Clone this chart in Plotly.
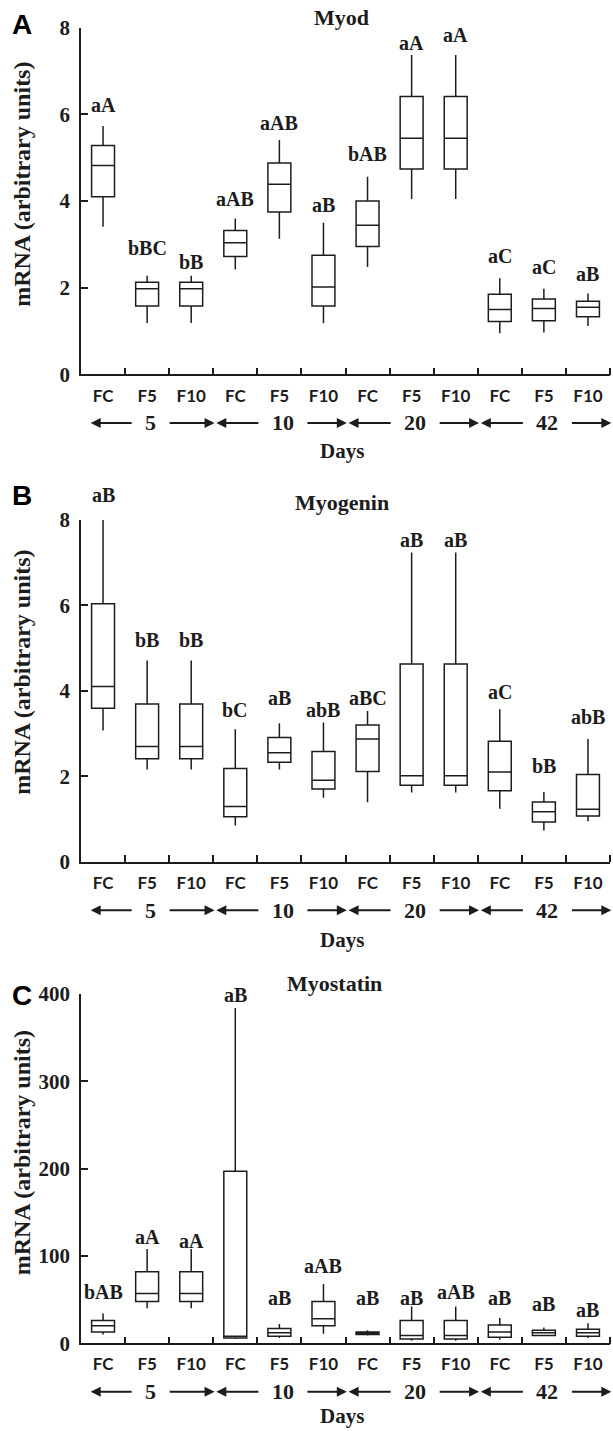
import plotly.graph_objects as go

# ---------------- data ----------------
groups = ["FC", "F5", "F10"] * 4
days = ["5", "10", "20", "42"]

# Panel A - Myod
myod_low = [3.41, 1.19, 1.19, 2.42, 3.13, 1.18, 2.48, 4.05, 4.05, 0.95, 0.97, 1.12]
myod_q1 = [4.10, 1.58, 1.58, 2.72, 3.75, 1.58, 2.95, 4.74, 4.74, 1.22, 1.24, 1.33]
myod_med = [4.82, 1.98, 1.98, 3.04, 4.39, 2.02, 3.44, 5.45, 5.45, 1.50, 1.52, 1.55]
myod_q3 = [5.28, 2.13, 2.13, 3.32, 4.88, 2.75, 4.00, 6.41, 6.41, 1.85, 1.74, 1.69]
myod_high = [5.73, 2.28, 2.28, 3.60, 5.41, 3.50, 4.56, 7.37, 7.37, 2.22, 1.98, 1.87]
myod_sig = ["aA", "bBC", "bB", "aAB", "aAB", "aB", "bAB", "aA", "aA", "aC", "aC", "aB"]
myod_sig_y = [6.22, 2.91, 2.60, 4.05, 5.81, 3.91, 5.08, 7.65, 7.83, 2.73, 2.48, 2.31]

# Panel B - Myogenin
myog_low = [3.07, 2.16, 2.16, 0.85, 2.16, 1.50, 1.39, 1.62, 1.62, 1.24, 0.73, 0.95]
myog_q1 = [3.59, 2.41, 2.41, 1.05, 2.33, 1.70, 2.11, 1.79, 1.79, 1.66, 0.93, 1.07]
myog_med = [4.10, 2.70, 2.70, 1.29, 2.55, 1.91, 2.87, 2.01, 2.01, 2.10, 1.17, 1.23]
myog_q3 = [6.04, 3.69, 3.69, 2.18, 2.91, 2.58, 3.20, 4.63, 4.63, 2.82, 1.40, 2.04]
myog_high = [8.00, 4.71, 4.71, 3.10, 3.24, 3.26, 3.53, 7.24, 7.24, 3.57, 1.63, 2.87]
myog_sig = ["aB", "bB", "bB", "bC", "aB", "abB", "aBC", "aB", "aB", "aC", "bB", "abB"]
myog_sig_y = [8.59, 5.18, 5.18, 3.54, 3.83, 3.55, 3.83, 7.54, 7.54, 3.98, 2.23, 3.38]

# Panel C - Myostatin
myos_low = [10, 40, 40, 5, 6, 11, 9, 3, 3, 4, 8, 6]
myos_q1 = [13, 48, 48, 6, 8, 20, 10, 5, 5, 7, 9, 8]
myos_med = [20, 57, 57, 8, 12, 28, 12, 9, 9, 13, 12, 12]
myos_q3 = [26, 82, 82, 197, 17, 48, 13, 26, 26, 21, 15, 16]
myos_high = [34, 108, 108, 384, 22, 68, 15, 42, 42, 29, 18, 23]
myos_sig = ["bAB", "aA", "aA", "aB", "aB", "aAB", "aB", "aB", "aAB", "aB", "aB", "aB"]
myos_sig_y = [59, 122, 117, 399, 52, 88, 52, 52, 59, 52, 45, 38]

y_ticks_ab = [0, 2, 4, 6, 8]
y_ticks_c = [0, 100, 200, 300, 400]

# ---------------- styling ----------------
INK = "#1c1c1c"
SERIF = "Liberation Serif"
SANS = "Liberation Sans"
LAB_FONT = "Lato"
LW = 1.5

panels = [
    dict(letter="A", title="Myod", low=myod_low, q1=myod_q1, med=myod_med, q3=myod_q3,
         high=myod_high, sig=myod_sig, sig_y=myod_sig_y, ticks=y_ticks_ab, ymax=8,
         dom=[0.73830, 0.98064], hpx=346.8, title_y=1.030, title_x=0.493, letter_y=1.008,
         ytitle_y=0.549, days_px=77),
    dict(letter="B", title="Myogenin", low=myog_low, q1=myog_q1, med=myog_med, q3=myog_q3,
         high=myog_high, sig=myog_sig, sig_y=myog_sig_y, ticks=y_ticks_ab, ymax=8,
         dom=[0.39783, 0.63662], hpx=341.7, title_y=1.050, title_x=0.493, letter_y=1.073,
         ytitle_y=0.555, days_px=78),
    dict(letter="C", title="Myostatin", low=myos_low, q1=myos_q1, med=myos_med, q3=myos_q3,
         high=myos_high, sig=myos_sig, sig_y=myos_sig_y, ticks=y_ticks_c, ymax=400,
         dom=[0.06129, 0.30538], hpx=349.3, title_y=1.031, title_x=0.48, letter_y=0.997,
         ytitle_y=0.546, days_px=73),
]

CAT_PX = 529 / 12.0  # pixels per category

xs = list(range(len(groups)))
fig = go.Figure()
annotations = []
layout_axes = {}

for i, p in enumerate(panels):
    n = "" if i == 0 else str(i + 1)
    xa, ya = "x" + n, "y" + n
    fig.add_trace(go.Box(
        x=xs, q1=p["q1"], median=p["med"], q3=p["q3"],
        lowerfence=p["low"], upperfence=p["high"],
        xaxis=xa, yaxis=ya, width=0.52, whiskerwidth=0,
        fillcolor="white", line=dict(color=INK, width=LW),
        boxpoints=False, showlegend=False, hoverinfo="skip",
    ))
    layout_axes["xaxis" + n] = dict(
        domain=[0, 1], anchor=ya, range=[-0.5, 11.5],
        tickmode="array", tickvals=xs, ticktext=groups, ticks="",
        showline=True, linecolor=INK, linewidth=LW, showgrid=False, zeroline=False,
        tickfont=dict(family=LAB_FONT, size=17, weight="bold", color=INK),
        ticklabelstandoff=5, automargin=False,
        minor=dict(tickmode="array", tickvals=[k + 0.5 for k in xs], ticks="inside",
                   ticklen=7, tickwidth=LW, tickcolor=INK, showgrid=False),
    )
    layout_axes["yaxis" + n] = dict(
        domain=p["dom"], anchor=xa, range=[0, p["ymax"]],
        tickmode="array", tickvals=p["ticks"], ticks="inside", ticklen=7,
        tickwidth=LW, tickcolor=INK,
        showline=True, linecolor=INK, linewidth=LW, showgrid=False, zeroline=False,
        tickfont=dict(family=SERIF, size=21, weight="bold", color=INK),
        ticklabelstandoff=5, automargin=False,
    )
    xd, yd = xa + " domain", ya + " domain"
    # title
    annotations.append(dict(text=p["title"], xref=xd, yref=yd, x=p["title_x"], y=p["title_y"],
                            showarrow=False, xanchor="center", yanchor="middle",
                            font=dict(family=SERIF, size=22, weight="bold", color=INK)))
    # panel letter
    annotations.append(dict(text=p["letter"], xref=xd, yref=yd, x=-0.1115, y=p["letter_y"],
                            showarrow=False, xanchor="center", yanchor="middle",
                            font=dict(family=SANS, size=28, weight="bold", color="#000")))
    # y title
    annotations.append(dict(text="mRNA (arbitrary units)", xref=xd, yref=yd, x=-0.112,
                            y=p["ytitle_y"], textangle=-90, showarrow=False,
                            xanchor="center", yanchor="middle",
                            font=dict(family=SERIF, size=24, weight="bold", color=INK)))
    # significance letters
    for k, (s, sy) in enumerate(zip(p["sig"], p["sig_y"])):
        annotations.append(dict(text=s, xref=xa, yref=yd, x=k, y=sy / p["ymax"],
                                showarrow=False, xanchor="center", yanchor="middle",
                                font=dict(family=SERIF, size=20, weight="bold", color=INK)))
    # day group labels with arrows
    row_y = -48.5 / p["hpx"]
    for g, d in enumerate(days):
        c = 3 * g + 1
        tc = c + 0.08
        half = (len(d) * 11 / 2 + 12) / CAT_PX
        annotations.append(dict(text=d, xref=xa, yref=yd, x=tc, y=row_y,
                                showarrow=False, xanchor="center", yanchor="middle",
                                font=dict(family=SERIF, size=22, weight="bold", color=INK)))
        left_head = c - 1.5 + (0.22 if g == 0 else 0.07)
        right_head = c + 1.5 + 0.03
        for head, tail in ((left_head, tc - half), (right_head, tc + half)):
            annotations.append(dict(text="", xref=xa, yref=yd, x=head, y=row_y,
                                    axref=xa, ax=tail, ay=0, showarrow=True,
                                    arrowhead=2, arrowsize=1.0, arrowwidth=2,
                                    arrowcolor=INK))
    annotations.append(dict(text="Days", xref=xd, yref=yd, x=0.493, y=-p["days_px"] / p["hpx"],
                            showarrow=False, xanchor="center", yanchor="middle",
                            font=dict(family=SERIF, size=21, weight="bold", color=INK)))

fig.update_layout(
    template="none",
    width=613, height=1431,
    margin=dict(l=81, r=3, t=0, b=0, autoexpand=False),
    paper_bgcolor="white", plot_bgcolor="white",
    showlegend=False,
    annotations=annotations,
    **layout_axes,
)

fig.write_html("out.html")
